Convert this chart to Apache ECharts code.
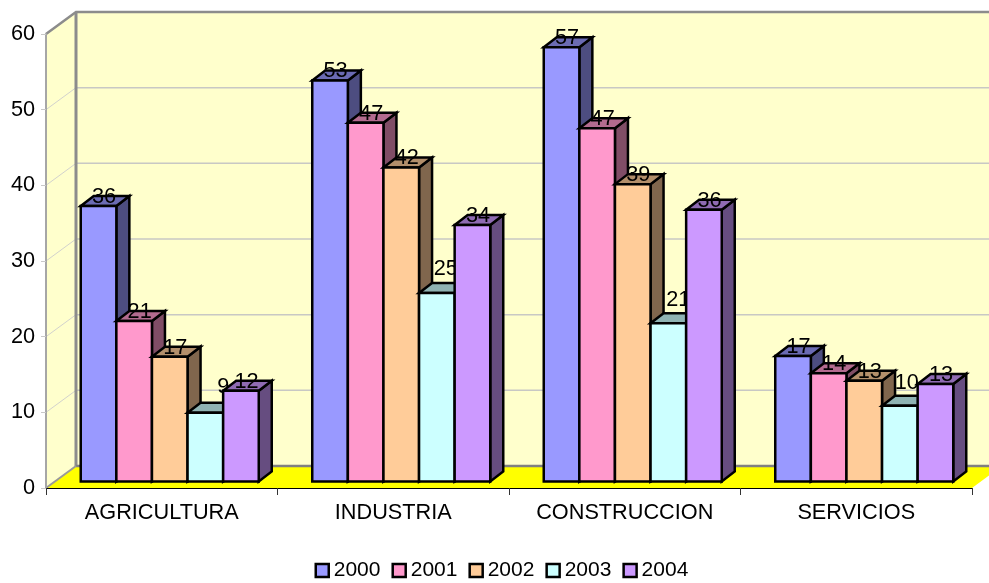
<!DOCTYPE html>
<html>
<head>
<meta charset="utf-8">
<title>Chart</title>
<style>
  html, body { margin: 0; padding: 0; background: #fff; }
  #main { width: 989px; height: 583px; }
</style>
<script src="https://cdn.jsdelivr.net/npm/echarts@6/dist/echarts.min.js"></script>
</head>
<body>
<div id="main"></div>
<script>
var categories = ['AGRICULTURA', 'INDUSTRIA', 'CONSTRUCCION', 'SERVICIOS'];
var years = ['2000', '2001', '2002', '2003', '2004'];
var values2000 = [36.4, 53.0, 57.4, 16.6];
var values2001 = [21.2, 47.4, 46.7, 14.3];
var values2002 = [16.5, 41.5, 39.3, 13.3];
var values2003 = [9.1, 24.9, 20.9, 10.0];
var values2004 = [12.0, 33.9, 35.9, 12.9];
var yearValues = [values2000, values2001, values2002, values2003, values2004];
var yTicks = [0, 10, 20, 30, 40, 50, 60];

var faceColors = ['#9999ff', '#ff99cc', '#ffcc99', '#ccffff', '#cc99ff'];
var topColors = ['#6b6bb3', '#b36b8f', '#b38f6b', '#8fb3b3', '#8f6bb3'];
var sideColors = ['#4d4d80', '#804d66', '#80664d', '#668080', '#664d80'];

var fontName = '"Liberation Sans", Arial, sans-serif';
var fontSize = 21.7;
// 3d look: offset of the back wall, of the bars' front face, and depth of a bar
var wallDx = 30, wallDy = -22;
var barDx = 8, barDy = -6.5;
var depthDx = 13, depthDy = -10;
var gapRatio = 53.5 / 231.5;
// the 2003 labels sit up and to the right of their bars, they would not fit otherwise
var shift2003 = [[18, -26], [9, -24], [10, -23.5], [7, -23]];

function renderWalls(params, api) {
  var g = params.coordSys;
  var left = g.x, right = g.x + g.width, top = g.y, bottom = g.y + g.height;
  var children = [
    { type: 'polygon', shape: { points: [[left, bottom], [left, top], [left + wallDx, top + wallDy], [left + wallDx, bottom + wallDy]] },
      style: { fill: '#ffffcc' } },
    { type: 'rect', shape: { x: left + wallDx, y: top + wallDy, width: g.width, height: g.height },
      style: { fill: '#ffffcc' } }
  ];
  yTicks.forEach(function (t) {
    if (t === 0 || t === 60) return;
    var y = api.coord([0, t])[1];
    children.push(
      { type: 'line', shape: { x1: left, y1: y, x2: left + wallDx, y2: y + wallDy },
        style: { stroke: '#d2d2cc', lineWidth: 1 } },
      { type: 'line', shape: { x1: left + wallDx, y1: y + wallDy, x2: right + wallDx, y2: y + wallDy },
        style: { stroke: '#c8c8c4', lineWidth: 1.5 } }
    );
  });
  children.push(
    { type: 'polygon', shape: { points: [[left, bottom], [right, bottom], [right + wallDx, bottom + wallDy], [left + wallDx, bottom + wallDy]] },
      style: { fill: '#ffff00' } },
    { type: 'polyline', shape: { points: [[left, top], [left + wallDx, top + wallDy], [right + wallDx, top + wallDy]] },
      style: { fill: null, stroke: '#8c8c8c', lineWidth: 2.5 } },
    { type: 'line', shape: { x1: left + wallDx, y1: top + wallDy, x2: left + wallDx, y2: bottom + wallDy },
      style: { stroke: '#8c8c8c', lineWidth: 3 } },
    { type: 'line', shape: { x1: left + wallDx, y1: bottom + wallDy, x2: right + wallDx, y2: bottom + wallDy },
      style: { stroke: '#808080', lineWidth: 2.5 } },
    { type: 'line', shape: { x1: left, y1: bottom, x2: left + wallDx, y2: bottom + wallDy },
      style: { stroke: '#9a9a9a', lineWidth: 2 } }
  );
  return { type: 'group', children: children };
}

function makeBarRender(idx) {
  return function (params, api) {
    var band = api.size([1, 0])[0];
    var gap = band * gapRatio / 2;
    var bw = (band - gap * 2) / years.length;
    var cat = api.value(0);
    var center = api.coord([cat, 0]);
    var x0 = center[0] - band / 2 + gap + bw * idx + barDx;
    var x1 = x0 + bw;
    var yBase = center[1] + barDy;
    var yTop = api.coord([cat, api.value(1)])[1] + barDy;
    var line = { stroke: '#000', lineWidth: 2.5, lineJoin: 'miter' };
    var shift = idx === 3 ? shift2003[cat] : [5.5, -9];
    return {
      type: 'group',
      children: [
        { type: 'polygon', shape: { points: [[x1, yTop], [x1 + depthDx, yTop + depthDy], [x1 + depthDx, yBase + depthDy], [x1, yBase]] },
          style: Object.assign({ fill: sideColors[idx] }, line) },
        { type: 'polygon', shape: { points: [[x0, yTop], [x0 + depthDx, yTop + depthDy], [x1 + depthDx, yTop + depthDy], [x1, yTop]] },
          style: Object.assign({ fill: topColors[idx] }, line) },
        { type: 'rect', shape: { x: x0, y: yTop, width: bw, height: yBase - yTop },
          style: Object.assign({ fill: faceColors[idx] }, line) },
        { type: 'text',
          style: { text: String(Math.round(api.value(1))), x: (x0 + x1) / 2 + shift[0], y: yTop + shift[1],
            align: 'center', verticalAlign: 'middle', fill: '#000', font: fontSize + 'px ' + fontName } }
      ]
    };
  };
}

var series = [{
  type: 'custom',
  name: 'walls',
  silent: true,
  z: 1,
  renderItem: renderWalls,
  data: [[0, 0]]
}];
years.forEach(function (year, i) {
  series.push({
    type: 'custom',
    name: year,
    z: 3,
    itemStyle: { color: faceColors[i] },
    renderItem: makeBarRender(i),
    encode: { x: 0, y: 1 },
    data: yearValues[i].map(function (v, c) { return [c, v]; })
  });
});

var chart = echarts.init(document.getElementById('main'), null, { renderer: 'canvas' });
chart.setOption({
  animation: false,
  backgroundColor: '#fff',
  grid: { left: 46, right: 17, top: 34, height: 454, containLabel: false },
  legend: {
    data: years,
    left: 314.5,
    top: 560,
    padding: 0,
    icon: 'rect',
    itemWidth: 13,
    itemHeight: 13,
    itemGap: 11,
    selectedMode: false,
    itemStyle: { borderColor: '#000', borderWidth: 2.5 },
    textStyle: { color: '#000', fontFamily: fontName, fontSize: 21 }
  },
  xAxis: {
    type: 'category',
    data: categories,
    z: 5,
    axisLine: { show: true, lineStyle: { color: '#000', width: 1 } },
    axisTick: { show: true, length: 7, lineStyle: { color: '#333' } },
    axisLabel: { color: '#000', fontFamily: fontName, fontSize: fontSize, margin: 14 }
  },
  yAxis: {
    type: 'value',
    min: 0,
    max: 60,
    interval: 10,
    z: 5,
    splitLine: { show: false },
    axisLine: { show: true, lineStyle: { color: '#a6a6a6', width: 2 } },
    axisTick: { show: true, length: 5, lineStyle: { color: '#c8c8c8' } },
    axisLabel: { color: '#000', fontFamily: fontName, fontSize: fontSize, margin: 11, padding: [2, 0, 0, 0] }
  },
  series: series
});
</script>
</body>
</html>
